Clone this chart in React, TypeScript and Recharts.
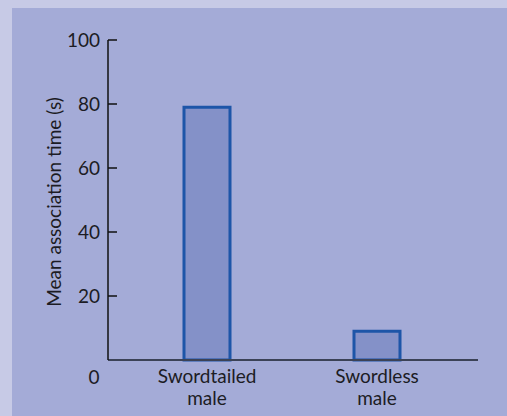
import { BarChart, Bar, XAxis, YAxis } from "recharts";

const categories = ["Swordtailed male", "Swordless male"];
const meanTimes = [79, 9];
const yTicks = [0, 20, 40, 60, 80, 100];

const data = categories.map((name, i) => ({ name, time: meanTimes[i] }));

const FONT = "Lato, sans-serif";
const TEXT = "#1c1c24";

/* ===== Y tick: ticks point inward, 0 sits under the axis ===== */
function YTick({ x, y, payload }: any) {
  if (payload.value === 0) {
    return (
      <text x={x - 6} y={y + 24} textAnchor="middle" fontSize={19} fontFamily={FONT} fill={TEXT}>
        0
      </text>
    );
  }
  return (
    <g>
      <line x1={x + 8} x2={x + 17} y1={y} y2={y} stroke="#111" strokeWidth={1.5} />
      <text x={x} y={y} dy={7} textAnchor="end" fontSize={19} fontFamily={FONT} fill={TEXT}>
        {payload.value}
      </text>
    </g>
  );
}

/* ===== X tick: two-line category labels ===== */
function XTick({ x, y, payload }: any) {
  const [first, ...rest] = String(payload.value).split(" ");
  return (
    <text x={x} y={y} textAnchor="middle" fontSize={19} fontFamily={FONT} fill={TEXT}>
      <tspan x={x} dy={23}>{first}</tspan>
      <tspan x={x} dy={22}>{rest.join(" ")}</tspan>
    </text>
  );
}

function YLabel({ viewBox }: any) {
  const cx = 53;
  const cy = viewBox.y + viewBox.height / 2 + 2;
  return (
    <text
      x={cx}
      y={cy}
      transform={`rotate(-90 ${cx} ${cy})`}
      textAnchor="middle"
      dominantBaseline="central"
      fontSize={19}
      fontFamily={FONT}
      fill={TEXT}
    >
      Mean association time (s)
    </text>
  );
}

export default function App() {
  return (
    <div
      style={{
        position: "absolute",
        left: 0,
        top: 0,
        width: 507,
        height: 416,
        background: "#c7cae6",
      }}
    >
      <div
        style={{
          position: "absolute",
          left: 12,
          top: 8,
          right: 0,
          bottom: 0,
          background: "#a4abd7",
        }}
      />
      <div style={{ position: "absolute", left: 0, top: 0 }}>
        <BarChart
          width={507}
          height={416}
          data={data}
          margin={{ top: 40, right: 29, left: 0, bottom: 0 }}
        >
          <XAxis
            dataKey="name"
            height={56}
            padding={{ left: 14, right: 16 }}
            tick={<XTick />}
            tickLine={false}
            tickSize={0}
            tickMargin={0}
            axisLine={{ stroke: "#3b4256", strokeWidth: 2 }}
            interval={0}
          />
          <YAxis
            width={108}
            domain={[0, 100]}
            ticks={yTicks}
            tick={<YTick />}
            tickLine={false}
            tickSize={0}
            tickMargin={8}
            axisLine={{ stroke: "#111", strokeWidth: 1.5 }}
            label={<YLabel />}
          />
          <Bar
            dataKey="time"
            barSize={46}
            fill="#8491c8"
            stroke="#1d55a8"
            strokeWidth={3}
            isAnimationActive={false}
          />
        </BarChart>
      </div>
    </div>
  );
}
